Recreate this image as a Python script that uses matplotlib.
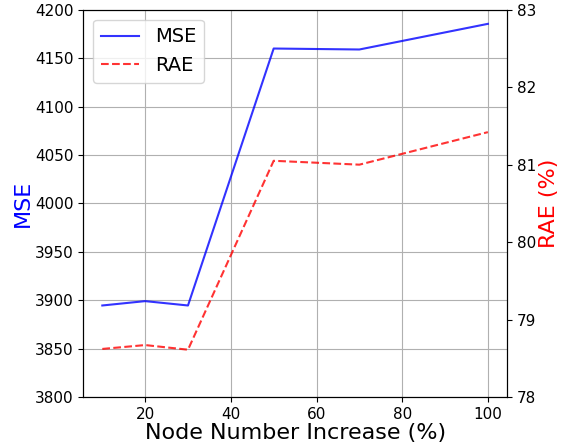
import matplotlib
matplotlib.use('Agg')
import matplotlib.pyplot as plt

# node number increase (%) vs. error metrics
node_increase = [10, 20, 30, 50, 70, 100]
mse = [3894.5, 3899, 3894.5, 4160, 4159, 4185.5]
rae = [78.62, 78.67, 78.61, 81.05, 81.0, 81.42]

fig, ax1 = plt.subplots(figsize=(5.61, 4.46), dpi=100)

l1, = ax1.plot(node_increase, mse, color='blue', alpha=0.8, label='MSE')
ax1.set_ylim(3800, 4200)
ax1.set_xlabel('Node Number Increase (%)', fontsize=16, labelpad=1)
ax1.set_ylabel('MSE', fontsize=16, color='blue', labelpad=1)
ax1.tick_params(labelsize=11)
ax1.grid(True)

ax2 = ax1.twinx()
l2, = ax2.plot(node_increase, rae, color='red', linestyle='--', alpha=0.8, label='RAE')
ax2.set_ylim(78, 83)
ax2.set_ylabel('RAE (%)', fontsize=16, color='red', labelpad=2)
ax2.tick_params(labelsize=11)

ax1.legend(handles=[l1, l2], loc='upper left', fontsize=14)

plt.subplots_adjust(left=0.148, right=0.904, top=0.978, bottom=0.11)
plt.savefig('out.png')
